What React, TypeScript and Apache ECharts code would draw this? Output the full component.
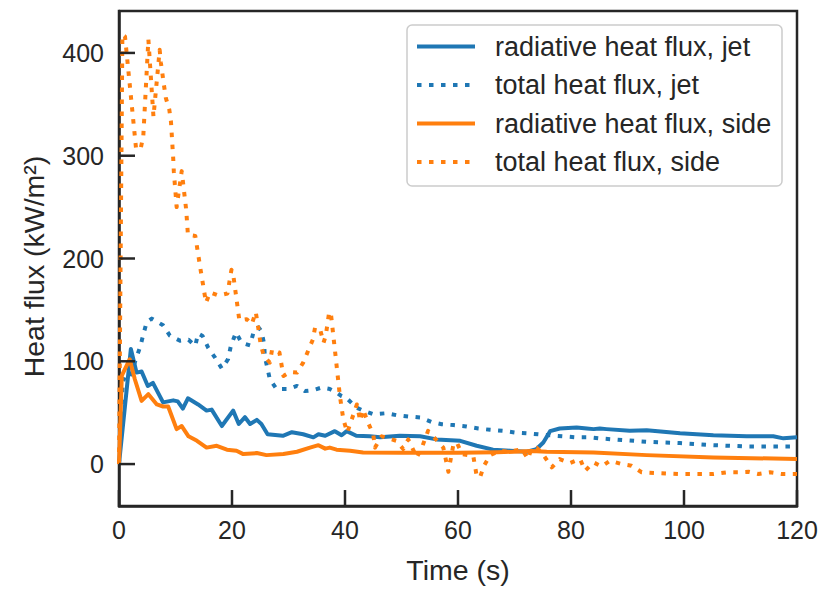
import React, { useEffect, useRef } from 'react';
import * as echarts from 'echarts';

// Radiative heat flux, jet
const tRadJet = [0, 2.1, 3.1, 4, 5.1, 6, 7.8, 9.6, 10.4, 11.3, 12.2, 14, 15.5, 16.4, 18.2, 20.2, 21.2, 22.3, 23.2, 24.4, 25.2, 26.3, 29, 30.6, 32.6, 34.4, 35.3, 36.5, 38.2, 39.4, 40.3, 42, 44.4, 46.2, 49.7, 53.3, 56.2, 60.4, 63.3, 66.2, 69.2, 72.2, 73.9, 75.1, 76.3, 78, 81, 82.8, 84, 85.1, 86.3, 90.4, 93.4, 99.3, 105.2, 111.1, 115.8, 117.6, 120];
const vRadJet = [0, 112, 89, 90, 76, 79, 60, 62, 61, 54, 64, 58, 52, 53, 37, 52, 39, 45.6, 39, 43, 39, 29, 27.5, 31, 29, 26, 29, 27.5, 32, 28, 32, 27.5, 27, 26, 27.5, 27, 24, 22.6, 17.8, 14, 13, 12, 14.6, 21, 32, 34.6, 35.6, 34.6, 34, 34.6, 34, 32.3, 33, 30, 28, 27, 27, 25, 26];

// Total heat flux, jet
const tTotJet = [0, 0.7, 1.6, 3.1, 3.8, 4.3, 4.9, 5.8, 7.8, 9, 10.8, 12.3, 13.5, 14, 14.8, 15.8, 17, 18.2, 19.3, 19.8, 20.7, 21.7, 23.2, 23.8, 24.7, 25.2, 25.7, 25.8, 26.7, 27.9, 30, 31.5, 32.9, 34.4, 35.9, 37.3, 38.5, 39.4, 40.3, 42, 43.2, 45, 47.4, 49.1, 51.2, 53.3, 55.3, 57.1, 59.2, 61.5, 63.6, 65.7, 68, 70.1, 72.2, 75, 78.6, 81, 83.4, 85.1, 87.5, 93.4, 99.3, 105.2, 111.1, 117, 120];
const vTotJet = [0, 83, 81, 103.6, 115, 126, 138, 141.5, 135, 125, 120, 121, 115, 127, 124.6, 113, 103.6, 93, 102, 115, 128, 118, 115.5, 128, 133, 129.4, 116.5, 105, 82.5, 73, 73, 76, 71, 72, 74.5, 73, 69.6, 66, 64, 55, 52, 48.5, 49.5, 47.6, 46.3, 45.3, 41, 38.8, 37.9, 36.6, 34.6, 33.3, 32.3, 30.7, 30, 28.5, 27, 26, 26, 25, 24, 21.7, 20.4, 18.4, 17.1, 17, 17];

// Radiative heat flux, side
const tRadSide = [0, 0.5, 1.9, 2.8, 4, 5.2, 6.7, 7.8, 8.7, 10.2, 11.1, 12.3, 13.8, 15.5, 17.3, 19.1, 20.8, 22, 24.4, 26.1, 29.1, 31.5, 33.8, 35.3, 36.5, 37.3, 38.5, 40.9, 43.2, 50, 60, 67, 73, 75.7, 84, 93.4, 105.2, 120];
const vRadSide = [0, 86, 102, 82.5, 61.5, 68, 58, 56, 56, 34, 37, 27, 22.6, 16, 17.8, 14, 13, 9.7, 10.7, 8.7, 9.7, 12, 16, 18.4, 15, 16, 14, 13, 11.3, 11, 11, 11.5, 12.6, 12, 11.3, 8.7, 6.5, 4.9];

// Total heat flux, side
const tTotSide = [0, 0.6, 1.06, 3, 3.8, 4.3, 5.2, 6.1, 7.2, 7.4, 7.7, 8, 8.3, 8.9, 9.2, 9.6, 9.7, 10.2, 11.1, 11.9, 12.2, 13.5, 14.5, 15.4, 16.1, 17.6, 19.2, 19.9, 20.2, 21.3, 22.6, 23.5, 24.2, 24.5, 25.1, 25.7, 26.7, 27.1, 28.4, 29.1, 30.3, 31.5, 32.6, 34.3, 34.7, 35.6, 36.2, 36.6, 37.2, 37.5, 38.2, 39.1, 39.7, 40.4, 40.9, 42.1, 42.7, 43.2, 44.1, 45, 45.3, 46.5, 49.1, 50.3, 51.2, 52.7, 53.6, 54.7, 57.4, 58.3, 59.2, 59.8, 60.7, 62.7, 63.3, 63.9, 64.6, 65.7, 67.4, 69.2, 71.3, 72.4, 73, 73.9, 74.8, 76.6, 78, 79.8, 81.6, 82.5, 84, 85.4, 86.9, 89, 90.7, 92.5, 94.9, 99, 105.2, 107.6, 109.6, 111.4, 113.2, 115.2, 117.3, 120];
const vTotSide = [0, 418, 416, 308, 306, 319, 413, 338, 403, 391, 379, 367, 356, 345, 333, 297, 285, 250, 285, 247, 223, 222, 187, 157, 167, 164, 166, 189, 185, 140, 141, 136, 148, 138, 115.5, 104.6, 98.7, 111.7, 108.4, 85.7, 89.6, 89, 98.7, 121, 132.7, 131, 118, 125, 148, 146.6, 111.7, 66, 43.7, 30.7, 38.8, 58, 42, 53, 40, 29, 16, 27, 22.6, 14.6, 24, 6.5, 16, 32.3, 16, -7.5, 19.4, 21, 9.7, 8, -11.3, -13, -1.6, 8.7, 13, 12, 14.6, 4.9, 15.2, 15.8, 11.3, -3.2, 4.9, 1, 4.9, -6.5, 1.6, -2.3, 3.2, 0, -1.6, -8, -8.7, -9.7, -9.7, -8, -8, -7.5, -9.7, -8, -9.7, -9.7];

const seriesNames = [
  'radiative heat flux, jet',
  'total heat flux, jet',
  'radiative heat flux, side',
  'total heat flux, side',
];
const seriesColors = ['#1f77b4', '#1f77b4', '#ff7f0e', '#ff7f0e'];
const seriesDotted = [false, true, false, true];
const seriesT = [tRadJet, tTotJet, tRadSide, tTotSide];
const seriesV = [vRadJet, vTotJet, vRadSide, vTotSide];

const xTicks = [0, 20, 40, 60, 80, 100, 120];
const yTicks = [0, 100, 200, 300, 400];
const yMin = -40.8;
const yMax = 440.8;

const FONT = "'Liberation Sans', Arial, sans-serif";
const INK = '#262626';
const DOTTED = [4.5, 7.5];
const TICK_LEN = 16;
const TICK_W = 2.5;

const GRID = { left: 119, right: 25, top: 11, bottom: 82 };
const W = 822;
const H = 589;

export default function App() {
  const ref = useRef<HTMLDivElement>(null);
  useEffect(() => {
    if (!ref.current) return;
    const chart = echarts.init(ref.current, null, { renderer: 'svg' });

    // legend box drawn with graphic elements
    const legX = 407, legY = 25, legW = 375, legH = 161;
    const rowY0 = 46.5, rowStep = 38.5;
    const legendChildren: any[] = [
      {
        type: 'rect',
        shape: { x: legX, y: legY, width: legW, height: legH, r: 5 },
        style: { fill: 'rgba(255,255,255,0.8)', stroke: '#cccccc', lineWidth: 1.5 },
      },
    ];
    seriesNames.forEach((name, i) => {
      const y = rowY0 + i * rowStep;
      legendChildren.push({
        type: 'line',
        shape: { x1: legX + 10, y1: y, x2: legX + 68, y2: y },
        style: {
          stroke: seriesColors[i],
          lineWidth: 4,
          lineDash: seriesDotted[i] ? DOTTED : null,
          lineCap: 'butt',
        },
      });
      legendChildren.push({
        type: 'text',
        x: legX + 88,
        y,
        style: {
          text: name,
          fill: INK,
          fontSize: 27,
          fontFamily: FONT,
          verticalAlign: 'middle',
          align: 'left',
        },
      });
    });

    const lineSeries = seriesNames.map((name, i) => ({
      name,
      type: 'line',
      symbol: 'none',
      showSymbol: false,
      data: seriesT[i].map((t, j) => [t, seriesV[i][j]]),
      lineStyle: {
        color: seriesColors[i],
        width: 4,
        type: seriesDotted[i] ? DOTTED : 'solid',
        cap: 'butt',
        join: 'round',
      },
      itemStyle: { color: seriesColors[i] },
      emphasis: { disabled: true },
      z: 2,
    }));

    // inward tick marks as short line series in data space (tick length converted from pixels)
    const xMin = xTicks[0];
    const xMax = xTicks[xTicks.length - 1];
    const plotW = W - GRID.left - GRID.right;
    const plotH = H - GRID.top - GRID.bottom;
    const dX = (TICK_LEN * (xMax - xMin)) / plotW;
    const dY = (TICK_LEN * (yMax - yMin)) / plotH;
    const tickStyle = { color: INK, width: TICK_W, type: 'solid', cap: 'butt' };
    const xTickSeries = xTicks.map((v) => ({
      type: 'line',
      symbol: 'none',
      silent: true,
      clip: false,
      z: 4,
      data: [[v, yMin], [v, yMin + dY]],
      lineStyle: tickStyle,
      emphasis: { disabled: true },
    }));
    const yTickSeries = yTicks.map((v) => ({
      type: 'line',
      symbol: 'none',
      silent: true,
      clip: false,
      z: 4,
      data: [[xMin, v], [xMin + dX, v]],
      lineStyle: tickStyle,
      emphasis: { disabled: true },
    }));

    chart.setOption({
      animation: false,
      backgroundColor: '#ffffff',
      textStyle: { fontFamily: FONT },
      grid: {
        ...GRID,
        show: true,
        borderColor: INK,
        borderWidth: 2.5,
        backgroundColor: 'transparent',
      },
      graphic: [{ type: 'group', id: 'legend', z: 100, children: legendChildren }],
      xAxis: {
        type: 'value',
        min: xMin,
        max: xMax,
        interval: xTicks[1] - xTicks[0],
        name: 'Time (s)',
        nameLocation: 'middle',
        nameGap: 49,
        nameTextStyle: { fontSize: 28.5, color: INK, fontFamily: FONT },
        axisLine: { show: true, onZero: false, lineStyle: { color: INK, width: 2.5 } },
        axisTick: { show: false },
        axisLabel: { fontSize: 25, color: INK, margin: 11, fontFamily: FONT },
        splitLine: { show: false },
      },
      yAxis: {
        type: 'value',
        min: yMin,
        max: yMax,
        splitNumber: 5,
        name: 'Heat flux (kW/m²)',
        nameLocation: 'middle',
        nameGap: 71,
        nameTextStyle: { fontSize: 28.5, color: INK, fontFamily: FONT, padding: [0, 16, 0, 0] },
        axisLine: { show: true, onZero: false, lineStyle: { color: INK, width: 2.5 } },
        axisTick: { show: false },
        axisLabel: {
          fontSize: 25,
          color: INK,
          margin: 15,
          fontFamily: FONT,
          formatter: (v: number) => (yTicks.indexOf(Math.round(v * 1000) / 1000) >= 0 ? String(v) : ''),
        },
        splitLine: { show: false },
      },
      series: [...lineSeries, ...xTickSeries, ...yTickSeries],
    });
    return () => chart.dispose();
  }, []);
  return (
    <div
      ref={ref}
      style={{ position: 'absolute', left: 0, top: 0, width: W, height: H }}
    />
  );
}
